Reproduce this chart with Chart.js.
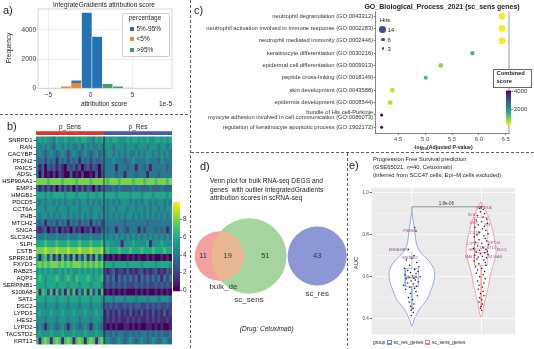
<!DOCTYPE html>
<html><head><meta charset="utf-8">
<script src="https://cdn.jsdelivr.net/npm/chart.js@4.4.1/dist/chart.umd.min.js"></script>
<style>
body{margin:0;width:534px;height:349px;overflow:hidden;background:#fff;position:relative;font-family:"Liberation Sans",Arial,sans-serif;color:#222}
canvas{position:absolute}
.t{position:absolute;white-space:pre;line-height:1}
.sq{position:absolute;width:4px;height:4px}
.dot{position:absolute;border-radius:50%;background:#3b528b}
</style></head><body>

<canvas id="hist" width="190" height="112" style="left:0;top:0"></canvas>
<canvas id="heat" width="192" height="231" style="left:0;top:118px"></canvas>
<canvas id="heatbar" width="24" height="100" style="left:170px;top:196px"></canvas>
<canvas id="dot" width="343" height="148" style="left:191px;top:8px"></canvas>
<canvas id="dotbar" width="31" height="44" style="left:503px;top:86px"></canvas>
<canvas id="venn" width="156" height="148" style="left:191px;top:200px"></canvas>
<canvas id="viol" width="186" height="154" style="left:348px;top:184px"></canvas>

<svg width="534" height="349" style="position:absolute;left:0;top:0;pointer-events:none">
<g stroke="#333" stroke-width="0.8" stroke-dasharray="3,2" fill="none">
<line x1="190.5" y1="0" x2="190.5" y2="349"/>
<line x1="0" y1="114.5" x2="190" y2="114.5"/>
<line x1="191" y1="152.5" x2="534" y2="152.5"/>
<line x1="347.5" y1="153" x2="347.5" y2="349"/>
</g></svg>

<!-- panel a texts -->
<div class="t" style="left:3px;top:5px;font-size:11px">a)</div>
<div class="t" style="left:104px;top:1.5px;font-size:6.5px;transform:translateX(-50%)">IntegrateGradients attribution score</div>
<div class="t" style="left:9px;top:48px;font-size:6.5px;transform:translate(-50%,-50%) rotate(-90deg)">Frequency</div>
<div style="position:absolute;left:122px;top:13px;width:46px;height:42px;border:0.6px solid #d0d0d0;border-radius:2px;background:rgba(255,255,255,0.85)"></div>
<div class="t" style="left:145px;top:15.3px;font-size:6.5px;transform:translateX(-50%)">percentage</div>
<div class="sq" style="left:130px;top:27.3px;background:#2372b4"></div>
<div class="t" style="left:136.5px;top:26.3px;font-size:6.5px">5%-95%</div>
<div class="sq" style="left:130px;top:37.3px;background:#f0852a"></div>
<div class="t" style="left:136.5px;top:36.3px;font-size:6.5px">&lt;5%</div>
<div class="sq" style="left:130px;top:48px;background:#3a9f6a"></div>
<div class="t" style="left:136.5px;top:47px;font-size:6.5px">&gt;95%</div>
<div class="t" style="left:104px;top:100.5px;font-size:6.5px;transform:translateX(-50%)">attribution score</div>
<div class="t" style="left:159px;top:100.5px;font-size:6.5px">1e-5</div>

<!-- panel b texts -->
<div class="t" style="left:7px;top:120.5px;font-size:11px">b)</div>
<div class="t" style="left:70px;top:123.5px;font-size:6.5px;transform:translateX(-50%)">p_Sens</div>
<div class="t" style="left:138px;top:123.5px;font-size:6.5px;transform:translateX(-50%)">p_Res</div>

<!-- panel c texts -->
<div class="t" style="left:194px;top:5px;font-size:11px">c)</div>
<div class="t" style="left:442px;top:3px;font-size:7px;font-weight:bold;transform:translateX(-50%)">GO_Biological_Process_2021 (sc_sens genes)</div>
<div class="t" style="left:380px;top:17px;font-size:6px">Hits</div>
<div class="dot" style="left:379.4px;top:26px;width:6.6px;height:6.6px"></div>
<div class="t" style="left:387.5px;top:26.5px;font-size:6px">14</div>
<div class="dot" style="left:381.3px;top:37.5px;width:3.6px;height:3.6px"></div>
<div class="t" style="left:387.5px;top:36.5px;font-size:6px">6</div>
<div class="dot" style="left:381.8px;top:47px;width:2.6px;height:2.6px"></div>
<div class="t" style="left:387.5px;top:45.5px;font-size:6px">3</div>
<div style="position:absolute;left:493px;top:69px;width:39px;height:19px;border:0.7px solid #666;background:#fff;box-sizing:border-box"></div>
<div class="t" style="left:496.5px;top:71px;font-size:5.8px;font-weight:bold">Combined</div>
<div class="t" style="left:496.5px;top:78.5px;font-size:5.8px;font-weight:bold">score</div>
<div class="t" style="left:443px;top:144.5px;font-size:5.2px;font-weight:bold;transform:translateX(-50%)">-log<span style="font-size:3.8px;vertical-align:-1px">10</span>(Adjusted P-value)</div>

<!-- panel d texts -->
<div class="t" style="left:200px;top:161px;font-size:11px">d)</div>
<div class="t" style="left:210px;top:177.7px;font-size:6.6px">Venn plot for bulk RNA-seq DEGS and</div>
<div class="t" style="left:210px;top:186.5px;font-size:6.6px">genes  with outlier IntegratedGradients</div>
<div class="t" style="left:210px;top:195px;font-size:6.6px">attribution scores in scRNA-seq</div>
<div class="t" style="left:266.7px;top:325.7px;font-size:6.6px;font-style:italic;transform:translateX(-50%)">(Drug: Cetuximab)</div>

<!-- panel e texts -->
<div class="t" style="left:349px;top:159.5px;font-size:11px">e)</div>
<div class="t" style="left:373px;top:157px;font-size:5.8px">Progression Free Survival prediction</div>
<div class="t" style="left:373px;top:165.3px;font-size:5.8px">(GSE65021, n=40, Cetuximab)</div>
<div class="t" style="left:373px;top:172.5px;font-size:5.8px">(inferred from SCC47 cells, Epi−M cells excluded)</div>
<div class="t" style="left:356px;top:263px;font-size:6px;transform:translate(-50%,-50%) rotate(-90deg)">AUC</div>
<div class="t" style="left:373px;top:340.5px;font-size:4.8px">group</div>
<div style="position:absolute;left:387px;top:340px;width:5px;height:5px;border:0.6px solid #6f8dd6;box-sizing:border-box;background:#fff"><div style="position:absolute;left:0;top:1.8px;width:100%;height:0.6px;background:#6f8dd6"></div></div>
<div class="t" style="left:393.5px;top:340.5px;font-size:4.8px">sc_res_genes</div>
<div style="position:absolute;left:425px;top:340px;width:5px;height:5px;border:0.6px solid #ee8080;box-sizing:border-box;background:#fff"><div style="position:absolute;left:0;top:1.8px;width:100%;height:0.6px;background:#ee8080"></div></div>
<div class="t" style="left:432px;top:340.5px;font-size:4.8px">sc_sens_genes</div>

<script>
// ---------------- DATA ----------------
// a) histogram (units of 1e-5)
const histBins = [-5.41,-4.17,-2.93,-1.69,-0.45,0.79,2.03,3.27,4.51,5.75];
const histMid  = [0,0,0,550,5200,3550,0,0,0,0];      // 5%-95%
const histLow  = [10,25,140,330,0,0,0,0,0,0];        // <5%
const histHigh = [0,0,0,0,0,0,320,140,25,8];         // >95%
const histXTicks = [-5,0,5];
const histYTicks = [0,2000,4000];

// b) heatmap (digits = expression 0..9), "p_Sens cells | p_Res cells"
const heatGenes = ['SNRPD1','RAN','CACYBP','PFDN2','PAICS','ADSL','HSP90AA1','EMP3','HMGB1','PDCD5','CCT6A','PHB','MTCH2','SNCA','SLC3A2','SLPI','CSTB','SPRR1B','FXYD3','RAB25','AQP3','SERPINB1','S100A8','SAT1','DSC2','LYPD3','HES2','LYPD2','TACSTD2','KRT13'];
const heatRows = [
 '565655 465565 556566 554656|565665 556566 565655 665656',
 '545454 355454 544535 454454|555455 545554 555455 545545',
 '454345 434542 454345 434534|455454 545445 454554 545454',
 '434243 414342 434143 424334|444544 434454 444544 435444',
 '313032 313103 231302 313203|444414 443441 443414 444434',
 '403010 202100 301020 010302|444434 414443 444144 434444',
 '888878 888788 887888 878888|878887 888878 887888 788878',
 '313131 303131 303131 320313|333434 333343 433343 334333',
 '666565 666656 665666 566566|666656 666566 656665 666656',
 '545455 454545 545455 454545|545454 555454 545545 455454',
 '555455 545554 555455 545554|545545 554554 554545 545455',
 '545545 454554 545454 545545|545454 545545 454545 454545',
 '434143 424341 434243 414342|444444 434444 444344 444444',
 '212302 130212 031202 130213|434414 432444 142444 343414',
 '444544 454445 444544 454445|545454 545454 545454 545454',
 '666766 676667 666766 676667|565555 155565 555615 556555',
 '888988 898889 888988 898889|676667 666766 676667 666766',
 '616727 161726 171627 161726|010101 001010 100101 001010',
 '787878 887878 788878 787878|666566 665666 656666 566665',
 '565656 556565 655656 565656|212312 213121 231212 312132',
 '676566 676567 657666 765667|242414 242424 142424 241424',
 '666566 656665 666566 656665|232323 232223 232322 323232',
 '717627 172617 271627 172617|010101 010001 010100 101010',
 '666566 656665 666566 656665|555455 545554 555455 545554',
 '555455 545554 555455 545554|323232 232323 322323 232232',
 '565556 555655 565556 555655|131213 121312 131213 121312',
 '555455 545554 555455 545554|121212 112121 211212 121121',
 '454145 434541 454345 414543|101010 011010 100110 101001',
 '565556 555655 565556 555655|343434 433434 344343 434334',
 '717871 787178 717871 787178|454345 434543 454345 434543'
];
const heatGroups = ['p_Sens','p_Res'];
const heatScaleTicks = [0,2,4,6,8];

// c) GO enrichment dot plot
const goTerms = ['neutrophil degranulation (GO:0043312)','neutrophil activation involved in immune response (GO:0002283)','neutrophil mediated immunity (GO:0002446)','keratinocyte differentiation (GO:0030216)','epidermal cell differentiation (GO:0009913)','peptide cross-linking (GO:0018149)','skin development (GO:0043588)','epidermis development (GO:0008544)',['bundle of His cell-Purkinje','myocyte adhesion involved in cell communication (GO:0086073)'],'regulation of keratinocyte apoptotic process (GO:1902172)'];
const goLogP  = [6.43,6.43,6.43,5.88,5.29,5.01,4.39,4.35,4.19,4.19];
const goHits  = [14,14,14,6,7,5,7,7,3,3];
const goScore = [284,290,300,1450,880,1500,560,690,4109,4000];
const goXTicks = [4.5,5.0,5.5,6.0,6.5];
const goScoreTicks = [2000,4000];

// d) Venn counts
const vennBulkOnly = 11, vennShared = 19, vennSensOnly = 51, vennResOnly = 43;
const vennNames = ['bulk_de','sc_sens','sc_res'];

// e) violin / box / jitter
const resViolinY = [0.905,0.87,0.83,0.79,0.75,0.72,0.70,0.67,0.64,0.61,0.57,0.53,0.49,0.45,0.41,0.38,0.365];
const resViolinW = [0.004,0.017,0.036,0.051,0.072,0.116,0.174,0.261,0.312,0.330,0.312,0.268,0.217,0.116,0.051,0.017,0.004];
const sensViolinY = [0.955,0.93,0.90,0.87,0.84,0.80,0.76,0.72,0.68,0.64,0.60,0.56,0.52,0.48,0.44,0.41];
const sensViolinW = [0.004,0.043,0.087,0.123,0.152,0.181,0.203,0.217,0.196,0.159,0.130,0.109,0.080,0.051,0.029,0.006];
const resBox  = [0.553,0.595,0.639,0.44,0.72];   // q1, median, q3, lower, upper whisker
const sensBox = [0.655,0.715,0.882,0.45,0.955];
const resAUC = [0.835,0.818,0.73,0.70,0.688,0.68,0.668,0.655,0.648,0.64,0.635,0.63,0.625,0.62,0.615,0.61,0.605,0.60,0.597,0.593,0.59,0.585,0.58,0.575,0.57,0.565,0.56,0.555,0.55,0.545,0.54,0.53,0.52,0.51,0.50,0.49,0.48,0.47,0.46,0.45,0.44,0.43,0.415];
const resJit = [0.04,0.06,-0.05,0.03,0.0,-0.08,0.07,-0.03,0.1,-0.11,0.04,-0.06,0.09,-0.02,0.06,-0.1,0.01,0.12,-0.04,0.03,-0.08,0.05,-0.01,0.09,-0.06,0.02,-0.12,0.07,-0.03,0.04,-0.09,0.06,-0.02,0.08,-0.05,0.01,-0.04,0.03,-0.02,0.02,-0.01,0.02,-0.01];
const sensAUC = [0.935,0.925,0.92,0.91,0.90,0.89,0.885,0.875,0.87,0.862,0.855,0.848,0.84,0.835,0.828,0.82,0.812,0.805,0.80,0.795,0.79,0.782,0.776,0.77,0.764,0.758,0.752,0.746,0.74,0.735,0.73,0.726,0.722,0.718,0.714,0.71,0.706,0.702,0.698,0.694,0.69,0.685,0.68,0.675,0.668,0.662,0.655,0.648,0.64,0.632,0.625,0.617,0.61,0.60,0.59,0.58,0.57,0.56,0.55,0.54,0.53,0.52,0.51,0.50,0.49,0.48,0.47,0.46,0.45,0.44];
const sensJit = [0.01,-0.02,0.03,-0.01,0.05,-0.05,0.03,0.08,-0.07,0.01,0.09,-0.04,0.05,-0.09,0.02,0.07,-0.02,0.1,-0.06,0.04,-0.1,0.06,-0.03,0.08,-0.08,0.01,0.11,-0.05,0.03,-0.11,0.07,-0.02,0.09,-0.07,0.05,-0.01,0.1,-0.09,0.02,-0.04,0.08,-0.06,0.04,-0.1,0.06,-0.03,0.07,-0.08,0.01,-0.05,0.05,-0.07,0.03,-0.02,0.06,-0.05,0.04,-0.03,0.02,-0.04,0.03,-0.01,0.04,-0.02,0.01,-0.03,0.02,0.0,-0.01,0.01];
const resLabelNames = ['PSMB3','EBNA1BP2','SNRPD2','PCNA'];
const resLabelX = [0.97,0.81,0.97,1.0];
const resLabelY = [0.818,0.73,0.688,0.60];
const sensLabelNames = ['SPRR1A','KLK5','DSP','PI3','CSTA','LYPD3','KRT14','TACSTD2','SDC1','HES2','MAL2','S100A8'];
const sensLabelX = [2.04,1.88,1.90,2.09,1.91,1.88,2.19,2.10,2.30,1.89,1.84,2.20];
const sensLabelY = [0.928,0.893,0.857,0.848,0.81,0.758,0.763,0.737,0.73,0.726,0.693,0.693];
const bracketY = 0.933;
const pValueText = '1.8e-06';
const aucTicks = [0.4,0.5,0.6,0.7,0.8,0.9,1.0];

// ---------------- HELPERS ----------------
const FONT = '"Liberation Sans", Arial, sans-serif';
Chart.defaults.font.family = FONT;
Chart.defaults.animation = false;
Chart.defaults.responsive = false;
Chart.defaults.events = [];
Chart.defaults.layout.autoPadding = false;
Chart.defaults.plugins.legend.display = false;
Chart.defaults.plugins.tooltip.enabled = false;

const VIR = ['#440154','#482475','#414487','#355f8d','#2a788e','#21918c','#22a884','#44bf70','#7ad151','#bddf26','#fde725']
  .map(h=>[parseInt(h.slice(1,3),16),parseInt(h.slice(3,5),16),parseInt(h.slice(5,7),16)]);
function viridis(t){
  t=Math.max(0,Math.min(1,t)); const s=t*10, i=Math.min(9,Math.floor(s)), f=s-i, a=VIR[i], b=VIR[i+1];
  return 'rgb('+Math.round(a[0]+(b[0]-a[0])*f)+','+Math.round(a[1]+(b[1]-a[1])*f)+','+Math.round(a[2]+(b[2]-a[2])*f)+')';
}
const fixedTicks = arr => (s => { s.ticks = arr.map(v=>({value:v})); });
function gradientPlugin(min,max,colorAt){
  return {id:'grad', beforeDatasetsDraw(chart){
    const {ctx, chartArea:a, scales:{y}} = chart;
    const g = ctx.createLinearGradient(0,y.getPixelForValue(min),0,y.getPixelForValue(max));
    for(let i=0;i<=20;i++) g.addColorStop(i/20, colorAt(min+(max-min)*i/20));
    ctx.save(); ctx.fillStyle=g; ctx.fillRect(a.left,a.top,a.width,a.height); ctx.restore();
  }};
}
function makeColorbar(id,min,max,ticks,colorAt,pad,axisW,fs){
  new Chart(document.getElementById(id),{
    type:'scatter', data:{datasets:[]},
    options:{layout:{padding:pad},
      scales:{x:{display:false,min:0,max:1},
        y:{position:'right',min,max,afterBuildTicks:fixedTicks(ticks),
           ticks:{font:{size:fs},color:'#333',padding:1,callback:v=>String(v)},
           grid:{drawOnChartArea:false,tickLength:2,tickColor:'#333',lineWidth:0.6},
           border:{display:false}, afterFit:s=>{s.width=axisW;}}}},
    plugins:[gradientPlugin(min,max,colorAt)]
  });
}

// ---------------- a) histogram ----------------
new Chart(document.getElementById('hist'),{
  type:'bar',
  data:{datasets:[
    {data:histBins.map((x,i)=>({x,y:histLow[i]})), backgroundColor:'#f0852a'},
    {data:histBins.map((x,i)=>({x,y:histHigh[i]})), backgroundColor:'#3a9f6a'},
    {data:histBins.map((x,i)=>({x,y:histMid[i]})), backgroundColor:histMid.map((v,i)=>histLow[i]>0?'#4f6f90':'#2372b4')}
  ]},
  options:{
    layout:{padding:{left:0,right:18,top:9,bottom:0}},
    datasets:{bar:{grouped:false,barPercentage:1,categoryPercentage:1,borderWidth:0.6,borderColor:'rgba(255,255,255,0.6)'}},
    scales:{
      x:{type:'linear',min:-6.25,max:9.7,offset:false,afterBuildTicks:fixedTicks(histXTicks),
         ticks:{font:{size:6.5},color:'#333',padding:3,callback:v=>v<0?'\u2212'+Math.abs(v):String(v)},
         grid:{offset:false,color:'#e4e4e4',lineWidth:0.6,drawTicks:false},border:{display:false},
         afterFit:s=>{s.height=23.7;}},
      y:{min:0,max:5430,afterBuildTicks:fixedTicks(histYTicks),
         ticks:{font:{size:6.5},color:'#333',padding:2,callback:v=>String(v)},
         grid:{color:'#e4e4e4',lineWidth:0.6,drawTicks:false},border:{display:false},
         afterFit:s=>{s.width=38;}}
    }
  },
  plugins:[{id:'frame',afterDraw(c){const {ctx,chartArea:a}=c;ctx.save();ctx.strokeStyle='#cccccc';ctx.lineWidth=0.8;ctx.strokeRect(a.left,a.top,a.width,a.height);ctx.restore();}}]
});

// ---------------- b) heatmap ----------------
const parsedRows = heatRows.map(r=>r.split('|').map(t=>t.replace(/\s/g,'')));
const nSens = parsedRows[0][0].length, nRes = parsedRows[0][1].length;
const colGroup = [...Array(nSens).fill(heatGroups[0]), ...Array(nRes).fill(heatGroups[1])];
const colLabels = colGroup.map((g,i)=>String(i));
const heatDatasets = [];
for(let r=heatGenes.length-1;r>=0;r--){
  const vals = (parsedRows[r][0]+parsedRows[r][1]).split('').map(Number);
  heatDatasets.push({data:vals.map(()=>1), backgroundColor:vals.map(v=>viridis(v/10))});
}
heatDatasets.push({data:colGroup.map(()=>0.3), backgroundColor:'rgba(0,0,0,0)'});
heatDatasets.push({data:colGroup.map(()=>0.49), backgroundColor:colGroup.map(g=>g===heatGroups[0]?'#e5322d':'#4a5aa8')});
new Chart(document.getElementById('heat'),{
  type:'bar',
  data:{labels:colLabels, datasets:heatDatasets},
  options:{
    layout:{padding:{left:0,right:20,top:13.3,bottom:2.8}},
    datasets:{bar:{barPercentage:1,categoryPercentage:1,borderWidth:0}},
    scales:{
      x:{stacked:true,display:false},
      y:{stacked:true,min:0,max:heatGenes.length+0.79,
         afterBuildTicks:s=>{s.ticks=heatGenes.map((g,i)=>({value:heatGenes.length-i-0.5}));},
         ticks:{autoSkip:false,font:{size:6},color:'#000',padding:1,callback:(v,i)=>heatGenes[i]},
         grid:{drawOnChartArea:false,tickLength:2.5,tickColor:'#000',lineWidth:0.6},border:{display:false},
         afterFit:s=>{s.width=36;}}
    }
  },
  plugins:[{id:'split',afterDatasetsDraw(c){const {ctx,scales:{x,y}}=c;const px=(x.getPixelForValue(nSens-1)+x.getPixelForValue(nSens))/2;
    ctx.save();ctx.strokeStyle='#1a1a2a';ctx.lineWidth=0.8;ctx.beginPath();ctx.moveTo(px,y.getPixelForValue(0));ctx.lineTo(px,y.getPixelForValue(heatGenes.length));ctx.stroke();ctx.restore();}}]
});
makeColorbar('heatbar',-0.1,10,heatScaleTicks,v=>viridis(v/10),{left:3,top:6,bottom:4,right:0},14,6.3);

// ---------------- c) dot plot ----------------
const csMin = Math.min(...goScore), csMax = Math.max(...goScore);
const scoreColor = s => viridis((csMax-s)/(csMax-csMin));
new Chart(document.getElementById('dot'),{
  type:'bubble',
  data:{datasets:[{data:goLogP.map((p,i)=>({x:p,y:i,r:0.9*Math.sqrt(goHits[i])})),
    backgroundColor:goScore.map(scoreColor),borderWidth:0,clip:false}]},
  options:{
    layout:{padding:{left:0,right:25,top:3.7,bottom:0}},
    scales:{
      x:{type:'linear',min:4.08,max:6.56,afterBuildTicks:fixedTicks(goXTicks),
         ticks:{font:{size:6},color:'#4d4d4d',padding:1,callback:v=>Number(v).toFixed(1)},
         grid:{drawOnChartArea:false,tickLength:2,tickColor:'#333',lineWidth:0.6},border:{color:'#333',width:0.6},
         afterFit:s=>{s.height=23;}},
      y:{type:'linear',reverse:true,min:-0.35,max:9.46,afterBuildTicks:s=>{s.ticks=goTerms.map((t,i)=>({value:i}));},
         ticks:{autoSkip:false,font:{size:5.8,lineHeight:1.0},color:'#333',padding:0.5,callback:(v,i)=>goTerms[i]},
         grid:{drawOnChartArea:false,tickLength:2,tickColor:'#333',lineWidth:0.6},border:{color:'#333',width:0.6},
         afterFit:s=>{s.width=184.7;}}
    }
  },
  plugins:[{id:'rb',afterDraw(c){const {ctx,chartArea:a}=c;ctx.save();ctx.strokeStyle='#555';ctx.lineWidth=0.6;ctx.beginPath();ctx.moveTo(a.right,a.top);ctx.lineTo(a.right,a.bottom);ctx.stroke();ctx.restore();}}]
});
makeColorbar('dotbar',csMin,csMax,goScoreTicks,scoreColor,{left:3,top:4,bottom:5,right:0},23,6);

// ---------------- d) Venn ----------------
const vennK = 4.5;
const rBulk = vennK*Math.sqrt(vennBulkOnly+vennShared);
const rSens = vennK*Math.sqrt(vennShared+vennSensOnly);
const rRes  = vennK*Math.sqrt(vennResOnly);
function lensArea(d,a,b){
  if(d>=a+b) return 0; if(d<=Math.abs(a-b)) return Math.PI*Math.min(a,b)**2;
  const A=a*a*Math.acos((d*d+a*a-b*b)/(2*d*a)), B=b*b*Math.acos((d*d+b*b-a*a)/(2*d*b));
  const C=0.5*Math.sqrt((-d+a+b)*(d+a-b)*(d-a+b)*(d+a+b)); return A+B-C;
}
const targetLens = Math.PI*vennK*vennK*vennShared;
let lo=Math.abs(rSens-rBulk), hi=rSens+rBulk;
for(let i=0;i<60;i++){const m=(lo+hi)/2; if(lensArea(m,rBulk,rSens)>targetLens) lo=m; else hi=m;}
const dBS=(lo+hi)/2;
const vennCx = 58, vennCy = 56, vennGap = 1;
const sensX = vennCx, bulkX = vennCx-dBS, resX = vennCx+rSens+vennGap+rRes;
const circles = [
  {x:sensX,y:vennCy,r:rSens,c:'#a6d49f'},
  {x:bulkX,y:vennCy,r:rBulk,c:'#f3a19f'},
  {x:resX,y:vennCy,r:rRes,c:'#8d97d5'}
];
const vennCounts = [
  {v:vennBulkOnly, x:((bulkX-rBulk)+(sensX-rSens))/2},
  {v:vennShared,   x:((sensX-rSens)+(bulkX+rBulk))/2},
  {v:vennSensOnly, x:((bulkX+rBulk)+(sensX+rSens))/2},
  {v:vennResOnly,  x:resX}
];
new Chart(document.getElementById('venn'),{
  type:'bubble',
  data:{datasets:[
    {data:[circles[2]].map(c=>({x:c.x,y:c.y,r:c.r})),backgroundColor:circles[2].c,borderWidth:0,clip:false},
    {data:[circles[1]].map(c=>({x:c.x,y:c.y,r:c.r})),backgroundColor:circles[1].c,borderWidth:0,clip:false},
    {data:[circles[0]].map(c=>({x:c.x,y:c.y,r:c.r})),backgroundColor:circles[0].c,borderWidth:0,clip:false}
  ]},
  options:{layout:{padding:0},
    scales:{x:{display:false,min:0,max:156},y:{display:false,min:0,max:148,reverse:true}}},
  plugins:[{id:'vennLbl',afterDatasetsDraw(c){
    const {ctx,scales:{x,y}}=c;
    ctx.save();
    ctx.beginPath();ctx.arc(x.getPixelForValue(sensX),y.getPixelForValue(vennCy),rSens,0,Math.PI*2);ctx.clip();
    ctx.beginPath();ctx.arc(x.getPixelForValue(bulkX),y.getPixelForValue(vennCy),rBulk,0,Math.PI*2);
    ctx.fillStyle='#e6b793';ctx.fill();ctx.restore();
    ctx.save();ctx.fillStyle='#333';ctx.textAlign='center';ctx.textBaseline='middle';
    ctx.font='7.5px '+FONT;
    vennCounts.forEach(n=>ctx.fillText(String(n.v),x.getPixelForValue(n.x),y.getPixelForValue(vennCy)));
    ctx.font='8px '+FONT;
    ctx.fillText(vennNames[0],x.getPixelForValue(bulkX+4),y.getPixelForValue(vennCy+rBulk+6.5));
    ctx.fillText(vennNames[1],x.getPixelForValue(sensX),y.getPixelForValue(vennCy+rSens+6.5));
    ctx.fillText(vennNames[2],x.getPixelForValue(resX),y.getPixelForValue(vennCy+rRes+8));
    ctx.restore();
  }}]
});

// ---------------- e) violin ----------------
function violinPts(pos,ys,ws){const p=[];for(let i=0;i<ys.length;i++)p.push({x:pos+ws[i],y:ys[i]});for(let i=ys.length-1;i>=0;i--)p.push({x:pos-ws[i],y:ys[i]});p.push(p[0]);return p;}
const boxHW = 0.096;
function boxPts(pos,b){return [{x:pos-boxHW,y:b[0]},{x:pos+boxHW,y:b[0]},{x:pos+boxHW,y:b[2]},{x:pos-boxHW,y:b[2]},{x:pos-boxHW,y:b[0]}];}
const BLUE='#6f8dd6', RED='#ee8080';
const lineDs = (data,color,w,extra)=>Object.assign({data,showLine:true,borderColor:color,borderWidth:w,pointRadius:0,tension:0,fill:false},extra||{});
const major = v => Math.round(v*10)%2===0;
new Chart(document.getElementById('viol'),{
  type:'scatter',
  data:{datasets:[
    {data:[...resAUC.map((v,i)=>({x:1+resJit[i],y:v})),...sensAUC.map((v,i)=>({x:2+sensJit[i],y:v}))],pointRadius:0.75,backgroundColor:'#111',borderWidth:0},
    lineDs([{x:1,y:0.905},{x:1,y:bracketY},{x:2,y:bracketY},{x:2,y:0.925}],'#555',0.6),
    lineDs(boxPts(1,resBox),BLUE,0.6),
    lineDs(boxPts(2,sensBox),RED,0.6),
    lineDs([{x:1-boxHW,y:resBox[1]},{x:1+boxHW,y:resBox[1]}],BLUE,0.7),
    lineDs([{x:2-boxHW,y:sensBox[1]},{x:2+boxHW,y:sensBox[1]}],RED,0.7),
    lineDs([{x:1,y:resBox[2]},{x:1,y:resBox[4]}],BLUE,0.5),
    lineDs([{x:1,y:resBox[0]},{x:1,y:resBox[3]}],BLUE,0.5),
    lineDs([{x:2,y:sensBox[2]},{x:2,y:sensBox[4]}],RED,0.5),
    lineDs([{x:2,y:sensBox[0]},{x:2,y:sensBox[3]}],RED,0.5),
    lineDs(violinPts(1,resViolinY,resViolinW),BLUE,0.7,{tension:0.35,fill:'shape',backgroundColor:'#ffffff'}),
    lineDs(violinPts(2,sensViolinY,sensViolinW),RED,0.7,{tension:0.35,fill:'shape',backgroundColor:'#ffffff'})
  ]},
  options:{
    layout:{padding:{left:0,right:19,top:2.7,bottom:3}},
    scales:{
      x:{type:'linear',min:0.42,max:2.49,afterBuildTicks:fixedTicks([1,2]),ticks:{display:false},
         grid:{color:'#ffffff',lineWidth:0.8,drawTicks:false},border:{display:false},afterFit:s=>{s.height=0;}},
      y:{min:0.326,max:1.024,afterBuildTicks:fixedTicks(aucTicks),
         ticks:{font:{size:4.5},color:'#4d4d4d',padding:1,callback:v=>major(v)?Number(v).toFixed(1):''},
         grid:{color:'#ffffff',lineWidth:c=>major(c.tick.value)?0.8:0.4,tickLength:2,
               tickColor:c=>major(c.tick.value)?'#444':'rgba(0,0,0,0)'},
         border:{display:false},afterFit:s=>{s.width=23.7;}}
    }
  },
  plugins:[
    {id:'bg',beforeDraw(c){const {ctx,chartArea:a}=c;ctx.save();ctx.fillStyle='#ebebeb';ctx.fillRect(a.left,a.top,a.width,a.height);ctx.restore();}},
    {id:'lbl',afterDatasetsDraw(c){
      const {ctx,scales:{x,y}}=c; ctx.save();
      ctx.font='3.9px '+FONT; ctx.fillStyle='#9a4b9c'; ctx.textAlign='center'; ctx.textBaseline='middle';
      resLabelNames.forEach((n,i)=>ctx.fillText(n,x.getPixelForValue(resLabelX[i]),y.getPixelForValue(resLabelY[i])));
      sensLabelNames.forEach((n,i)=>ctx.fillText(n,x.getPixelForValue(sensLabelX[i]),y.getPixelForValue(sensLabelY[i])));
      ctx.font='4.5px '+FONT; ctx.fillStyle='#333'; ctx.textBaseline='bottom';
      ctx.fillText(pValueText,x.getPixelForValue(1.5),y.getPixelForValue(bracketY)-0.8);
      ctx.restore();
    }}
  ]
});
</script>
</body></html>
